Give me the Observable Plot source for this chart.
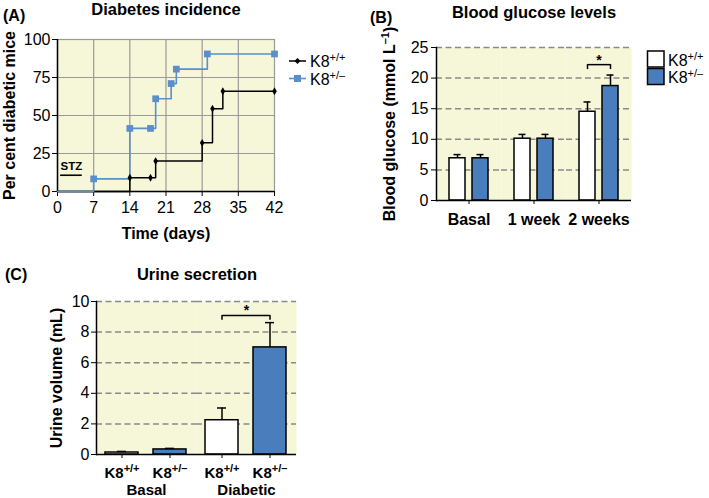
<!DOCTYPE html>
<html>
<head>
<meta charset="utf-8">
<script src="https://cdn.jsdelivr.net/npm/d3@7"></script>
<script src="https://cdn.jsdelivr.net/npm/@observablehq/plot@0.6"></script>
<style>
  html, body { margin: 0; padding: 0; background: white; }
  #fig { position: relative; width: 709px; height: 498px; overflow: hidden; font-family: "Liberation Sans", Arial, sans-serif; }
  .panel { position: absolute; }
  .t { position: absolute; font-weight: bold; line-height: 1; white-space: nowrap; }
  g[aria-label="y-axis label"], g[aria-label="x-axis label"] { font-weight: bold; }
  #B g[aria-label="fx-axis tick label"], #C g[aria-label="fx-axis tick label"], #C g[aria-label="x-axis tick label"] { font-weight: bold; }
  #C g[aria-label="fx-axis tick label"], #C g[aria-label="x-axis tick label"] { font-size: 15px; }
  #legend { position: absolute; left: 0; top: 0; pointer-events: none; }
</style>
</head>
<body>
<div id="fig">
  <div class="panel" id="A" style="left:0;top:0"></div>
  <div class="panel" id="B" style="left:360px;top:0"></div>
  <div class="panel" id="C" style="left:0;top:230px"></div>
  <div class="t" style="left:3px;top:8px;font-size:16px">(A)</div>
  <div class="t" style="left:66px;top:1px;width:200px;text-align:center;font-size:16.5px">Diabetes incidence</div>
  <div class="t" style="left:370px;top:9.5px;font-size:16px">(B)</div>
  <div class="t" style="left:434px;top:4px;width:200px;text-align:center;font-size:16.5px">Blood glucose levels</div>
  <div class="t" style="left:5px;top:266.5px;font-size:16px">(C)</div>
  <div class="t" style="left:97px;top:266px;width:200px;text-align:center;font-size:16.5px">Urine secretion</div>
</div>
<script>
// ---------- data ----------
// Panel A: diabetes incidence (step curves)
const daysWT  = [0, 14, 18, 19, 28, 30, 32, 42];
const pctWT   = [0, 9, 9, 20, 32, 54.5, 66, 66];
const daysHet = [0, 7, 14, 18, 19, 22, 23, 29, 42];
const pctHet  = [0, 8.3, 41.5, 41.5, 61, 71, 80.5, 90.5, 90.5];
const dayTicks = [0, 7, 14, 21, 28, 35, 42];
const pctTicks = [0, 25, 50, 75, 100];
const stzDays = [0.6, 4.8];
const stzLevel = 10.7;
const stzLabel = [{day: 2.7, pct: 14.2, text: "STZ"}];

// Genotype labels (^{...} = superscript)
const genotypes = ["K8^{+/+}", "K8^{+/–}"];

// Panel B: blood glucose
const timepoints = ["Basal", "1 week", "2 weeks"];
const glucoseWT = [6.9, 10.1, 14.5];
const glucoseWTsem = [0.6, 0.7, 1.6];
const glucoseHet = [6.9, 10.1, 18.7];
const glucoseHetsem = [0.6, 0.7, 1.8];
const glucoseTicks = [0, 5, 10, 15, 20, 25];
const sigB = [{time: "2 weeks", from: genotypes[0], to: genotypes[1], y: 22.2, yEnd: 21.4, star: 23.7}];

// Panel C: urine secretion
const conditions = ["Basal", "Diabetic"];
const urineWT = [0.13, 2.24];
const urineWTsem = [0.07, 0.8];
const urineHet = [0.33, 7.0];
const urineHetsem = [0.07, 1.62];
const urineTicks = [0, 2, 4, 6, 8, 10];
const sigC = [{cond: "Diabetic", from: genotypes[0], to: genotypes[1], y: 9.09, yEnd: 8.78, star: 9.74}];

// ---------- styles ----------
const bg = "#f6f6d9";
const gridGrey = "#9a9a9a";
const dashGrey = "#8a8a8a";
const blueLine = "#5b8fc9";
const blueBar = "#4a7dbb";
const barFills = ["white", blueBar];
const baseStyle = {fontSize: "16px", fontFamily: "'Liberation Sans', Arial, sans-serif", color: "black", background: "transparent", overflow: "visible"};

function supify(root) {
  const NS = "http://www.w3.org/2000/svg";
  root.querySelectorAll("text").forEach(t => {
    const s = t.textContent;
    if (!s.includes("^{")) return;
    const parts = s.split(/(\^\{[^}]*\})/);
    t.textContent = "";
    let shifted = false;
    for (const p of parts) {
      if (!p) continue;
      const ts = document.createElementNS(NS, "tspan");
      if (p.startsWith("^{")) {
        ts.textContent = p.slice(2, -1);
        ts.setAttribute("font-size", "11px");
        ts.setAttribute("dy", "-6");
        shifted = true;
      } else {
        ts.textContent = p;
        if (shifted) { ts.setAttribute("dy", "6"); shifted = false; }
      }
      t.appendChild(ts);
    }
  });
}

// ---------- Panel A ----------
const wtPts = daysWT.map((d, i) => ({day: d, pct: pctWT[i]}));
const hetPts = daysHet.map((d, i) => ({day: d, pct: pctHet[i]}));

const plotA = Plot.plot({
  width: 360, height: 245,
  marginLeft: 57, marginRight: 86, marginTop: 39, marginBottom: 54,
  style: baseStyle,
  x: {domain: [0, 42], ticks: dayTicks},
  y: {domain: [0, 100], ticks: pctTicks},
  marks: [
    Plot.frame({fill: bg, stroke: gridGrey, strokeWidth: 1.2}),
    Plot.gridX({ticks: dayTicks.slice(1, -1), stroke: gridGrey, strokeOpacity: 1, strokeWidth: 1.2}),
    Plot.gridY({ticks: pctTicks.slice(1, -1), stroke: gridGrey, strokeOpacity: 1, strokeWidth: 1.2}),
    Plot.ruleY([0], {stroke: "black", strokeWidth: 1.5}),
    Plot.ruleX([0], {stroke: "black", strokeWidth: 1.5}),
    Plot.axisX({ticks: dayTicks, tickSize: 5, tickPadding: 5, label: "Time (days)", labelAnchor: "center", labelOffset: 47, labelArrow: "none"}),
    Plot.axisY({ticks: pctTicks, tickSize: 5, tickPadding: 2, label: "Per cent diabetic mice", labelAnchor: "center", labelOffset: 54, labelArrow: "none"}),
    Plot.line(wtPts, {x: "day", y: "pct", curve: "step-after", stroke: "black", strokeWidth: 1.5}),
    Plot.line(hetPts, {x: "day", y: "pct", curve: "step-after", stroke: blueLine, strokeWidth: 1.6}),
    Plot.dot(wtPts.filter(d => d.day > 0), {x: "day", y: "pct", symbol: "diamond", r: 2.4, fill: "black"}),
    Plot.dot(hetPts.filter(d => d.day > 0), {x: "day", y: "pct", symbol: "square", r: 3.8, fill: blueLine}),
    Plot.ruleY([stzLevel], {x1: stzDays[0], x2: stzDays[1], stroke: "black", strokeWidth: 1.6}),
    Plot.text(stzLabel, {x: "day", y: "pct", text: "text", fontWeight: "bold", fontSize: 11.5, lineAnchor: "bottom"})
  ]
});
supify(plotA);
document.getElementById("A").appendChild(plotA);

// ---------- Panel B ----------
const rowsB = timepoints.flatMap((t, i) => [
  {time: t, genotype: genotypes[0], value: glucoseWT[i], sem: glucoseWTsem[i]},
  {time: t, genotype: genotypes[1], value: glucoseHet[i], sem: glucoseHetsem[i]}
]);
const plotB = Plot.plot({
  width: 349, height: 240,
  marginLeft: 76, marginRight: 78, marginTop: 47, marginBottom: 40,
  style: baseStyle,
  fx: {domain: timepoints, padding: 0, label: null},
  x: {domain: genotypes, paddingInner: 0.29, paddingOuter: 0.5, axis: null},
  y: {domain: [0, 25], ticks: glucoseTicks},
  color: {domain: genotypes, range: barFills},
  marks: [
    Plot.frame({fill: bg, stroke: "none"}),
    Plot.gridY({ticks: glucoseTicks.slice(1), stroke: dashGrey, strokeOpacity: 1, strokeWidth: 1.5, strokeDasharray: "6,3.5"}),
    Plot.barY(rowsB, {fx: "time", x: "genotype", y: "value", fill: "genotype", stroke: "black", strokeWidth: 1.5}),
    Plot.ruleX(rowsB, {fx: "time", x: "genotype", y1: "value", y2: d => d.value + d.sem, stroke: "black", strokeWidth: 1.5}),
    Plot.tickY(rowsB, {fx: "time", x: "genotype", y: d => d.value + d.sem, insetLeft: 4.5, insetRight: 4.5, stroke: "black", strokeWidth: 1.5}),
    Plot.ruleY([0], {stroke: "black", strokeWidth: 1.5}),
    Plot.frame({anchor: "left", facetAnchor: "left", stroke: "black", strokeWidth: 1.5}),
    Plot.axisY({ticks: glucoseTicks, tickSize: 5, tickPadding: 3, label: "Blood glucose (mmol L^{–1})", labelAnchor: "center", labelOffset: 53, labelArrow: "none"}),
    Plot.axisFx({anchor: "bottom", tickSize: 4, tickPadding: 9, label: null}),
    Plot.link(sigB, {fx: "time", x1: "from", x2: "to", y1: "y", y2: "y", stroke: "black", strokeWidth: 1.5}),
    Plot.ruleX(sigB.flatMap(d => [{time: d.time, g: d.from, y: d.y, yEnd: d.yEnd}, {time: d.time, g: d.to, y: d.y, yEnd: d.yEnd}]),
      {fx: "time", x: "g", y1: "y", y2: "yEnd", stroke: "black", strokeWidth: 1.5}),
    Plot.text(sigB, {fx: "time", y: "star", text: () => "*", frameAnchor: "middle", lineAnchor: "top", fontWeight: "bold", fontSize: 14})
  ]
});
supify(plotB);
document.getElementById("B").appendChild(plotB);

// ---------- Panel C ----------
const rowsC = conditions.flatMap((c, i) => [
  {cond: c, genotype: genotypes[0], value: urineWT[i], sem: urineWTsem[i]},
  {cond: c, genotype: genotypes[1], value: urineHet[i], sem: urineHetsem[i]}
]);
const plotC = Plot.plot({
  width: 360, height: 268,
  marginLeft: 96, marginRight: 64, marginTop: 71, marginBottom: 44,
  style: baseStyle,
  fx: {domain: conditions, padding: 0, label: null},
  x: {domain: genotypes, paddingInner: 0.31, paddingOuter: 0.18},
  y: {domain: [0, 10], ticks: urineTicks},
  color: {domain: genotypes, range: barFills},
  marks: [
    Plot.frame({fill: bg, stroke: "none"}),
    Plot.gridY({ticks: urineTicks.slice(1), stroke: dashGrey, strokeOpacity: 1, strokeWidth: 1.5, strokeDasharray: "6,3.5"}),
    Plot.barY(rowsC, {fx: "cond", x: "genotype", y: "value", fill: "genotype", stroke: "black", strokeWidth: 1.5}),
    Plot.ruleX(rowsC, {fx: "cond", x: "genotype", y1: "value", y2: d => d.value + d.sem, stroke: "black", strokeWidth: 1.5}),
    Plot.tickY(rowsC, {fx: "cond", x: "genotype", y: d => d.value + d.sem, insetLeft: 12, insetRight: 12, stroke: "black", strokeWidth: 1.5}),
    Plot.ruleY([0], {stroke: "black", strokeWidth: 1.5}),
    Plot.frame({anchor: "left", facetAnchor: "left", stroke: "black", strokeWidth: 1.5}),
    Plot.axisY({ticks: urineTicks, tickSize: 5, tickPadding: 2, label: "Urine volume (mL)", labelAnchor: "center", labelOffset: 46, labelArrow: "none"}),
    Plot.axisX({tickSize: 4, tickPadding: 9, label: null}),
    Plot.axisFx({anchor: "bottom", tickSize: 0, tickPadding: 30, label: null}),
    Plot.link(sigC, {fx: "cond", x1: "from", x2: "to", y1: "y", y2: "y", stroke: "black", strokeWidth: 1.5}),
    Plot.ruleX(sigC.flatMap(d => [{cond: d.cond, g: d.from, y: d.y, yEnd: d.yEnd}, {cond: d.cond, g: d.to, y: d.y, yEnd: d.yEnd}]),
      {fx: "cond", x: "g", y1: "y", y2: "yEnd", stroke: "black", strokeWidth: 1.5}),
    Plot.text(sigC, {fx: "cond", y: "star", text: () => "*", frameAnchor: "middle", lineAnchor: "top", fontWeight: "bold", fontSize: 14})
  ]
});
supify(plotC);
document.getElementById("C").appendChild(plotC);

// ---------- Legends ----------
const NS = "http://www.w3.org/2000/svg";
const leg = document.createElementNS(NS, "svg");
leg.setAttribute("id", "legend");
leg.setAttribute("width", 709);
leg.setAttribute("height", 498);
leg.setAttribute("font-family", "'Liberation Sans', Arial, sans-serif");
leg.innerHTML = `
  <line x1="289" x2="306" y1="61" y2="61" stroke="black" stroke-width="1.5"/>
  <path d="M297.5,58L300.5,61L297.5,64L294.5,61Z" fill="black"/>
  <text x="310" y="67" font-size="16">${genotypes[0]}</text>
  <line x1="289" x2="306" y1="78.5" y2="78.5" stroke="${blueLine}" stroke-width="1.6"/>
  <rect x="294" y="75" width="7" height="7" fill="${blueLine}"/>
  <text x="310" y="84.5" font-size="16">${genotypes[1]}</text>
  <rect x="647.5" y="51" width="16.5" height="16" fill="white" stroke="black" stroke-width="1.5"/>
  <rect x="647.5" y="68.5" width="16.5" height="16" fill="${blueBar}" stroke="black" stroke-width="1.5"/>
  <text x="668" y="65.5" font-size="16">${genotypes[0]}</text>
  <text x="668" y="83" font-size="16">${genotypes[1]}</text>
`;
supify(leg);
document.getElementById("fig").appendChild(leg);
</script>
</body>
</html>
